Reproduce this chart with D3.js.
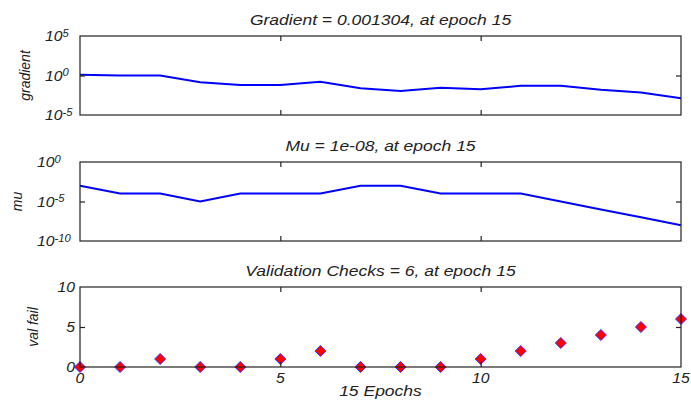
<!DOCTYPE html>
<html>
<head>
<meta charset="utf-8">
<script src="https://cdn.jsdelivr.net/npm/d3@7/dist/d3.min.js"></script>
<style>
  body { margin: 0; background: #fff; }
  svg text { font-family: "Liberation Sans", Arial, sans-serif; font-style: italic; fill: #222; }
</style>
</head>
<body>
<div id="chart"></div>
<script>
// training record
var epochs   = [0, 1, 2, 3, 4, 5, 6, 7, 8, 9, 10, 11, 12, 13, 14, 15];
var gradient = [1.26, 1.0, 1.0, 0.14, 0.063, 0.063, 0.16, 0.025, 0.011, 0.028, 0.018, 0.05, 0.05, 0.016, 0.007, 0.001304];
var mu       = [1e-3, 1e-4, 1e-4, 1e-5, 1e-4, 1e-4, 1e-4, 1e-3, 1e-3, 1e-4, 1e-4, 1e-4, 1e-5, 1e-6, 1e-7, 1e-8];
var valFail  = [0, 0, 1, 0, 0, 1, 2, 0, 0, 0, 1, 2, 3, 4, 5, 6];

var titles = ["Gradient = 0.001304, at epoch 15", "Mu = 1e-08, at epoch 15", "Validation Checks = 6, at epoch 15"];
var yLabels = ["gradient", "mu", "val fail"];
var xTicks = [0, 5, 10, 15];
var gradTicks = [1e-5, 1, 1e5];
var muTicks = [1e-10, 1e-5, 1];
var valTicks = [0, 5, 10];
var xLabel = "15 Epochs";

var W = 691, H = 400;
var left = 80, right = 681;
var stretch = 1.25; // the original figure was widened, text looks wide

var svg = d3.select("#chart").append("svg")
    .attr("width", W)
    .attr("height", H);

var x = d3.scaleLinear().domain([0, 15]).range([left, right]);

function widen(sel, k) {
    sel.each(function () {
        var len = this.getComputedTextLength();
        d3.select(this)
            .attr("textLength", len * k)
            .attr("lengthAdjust", "spacingAndGlyphs");
    });
}

var panels = [
    {top: 36, bottom: 115, ticks: gradTicks, data: gradient, log: true, labOff: -35, ylabX: 25},
    {top: 162, bottom: 241, ticks: muTicks, data: mu, log: true, labOff: -43, ylabX: 17},
    {top: 287, bottom: 367, ticks: valTicks, data: valFail, log: false, ylabX: 33}
];

var exps = {"1e-10": "-10", "0.00001": "-5", "1": "0", "100000": "5"};

panels.forEach(function (p, i) {
    var y;
    if (p.log) {
        y = d3.scaleLog().domain([p.ticks[0], p.ticks[2]]).range([p.bottom, p.top]);
    } else {
        y = d3.scaleLinear().domain([p.ticks[0], p.ticks[2]]).range([p.bottom, p.top]);
    }

    var g = svg.append("g");

    // data first so the frame sits on top
    if (i < 2) {
        var line = d3.line()
            .x(function (d, j) { return x(epochs[j]); })
            .y(function (d) { return y(d); });
        g.append("path")
            .datum(p.data)
            .attr("d", line)
            .attr("fill", "none")
            .attr("stroke", "#0000ff")
            .attr("stroke-width", 2);
    } else {
        var diamond = {
            draw: function (ctx, size) {
                var r = Math.sqrt(size) / 2;
                ctx.moveTo(0, -r);
                ctx.lineTo(r, 0);
                ctx.lineTo(0, r);
                ctx.lineTo(-r, 0);
                ctx.closePath();
            }
        };
        g.selectAll("path.pt")
            .data(p.data)
            .enter()
            .append("path")
            .attr("class", "pt")
            .attr("d", d3.symbol().type(diamond).size(121))
            .attr("transform", function (d, j) { return "translate(" + x(epochs[j]) + "," + y(d) + ")"; })
            .attr("fill", "#ff0000")
            .attr("stroke", "#3a2cff")
            .attr("stroke-width", 1);
    }

    // inward ticks on all four sides
    var mid = [p.ticks[1]];
    g.append("g").attr("transform", "translate(" + left + ",0)")
        .call(d3.axisRight(y).tickValues(mid).tickSize(5).tickFormat(""));
    g.append("g").attr("transform", "translate(" + right + ",0)")
        .call(d3.axisLeft(y).tickValues(mid).tickSize(5).tickFormat(""));
    g.append("g").attr("transform", "translate(0," + p.top + ")")
        .call(d3.axisBottom(x).tickValues([5, 10]).tickSize(5).tickFormat(""));
    g.append("g").attr("transform", "translate(0," + p.bottom + ")")
        .call(d3.axisTop(x).tickValues([5, 10]).tickSize(5).tickFormat(""));
    g.selectAll(".domain").remove();
    g.selectAll(".tick line").attr("stroke", "#222").attr("stroke-width", 1.2);

    g.append("rect")
        .attr("x", left)
        .attr("y", p.top)
        .attr("width", right - left)
        .attr("height", p.bottom - p.top)
        .attr("fill", "none")
        .attr("stroke", "#222")
        .attr("stroke-width", 1.2);

    // y tick labels
    var lab = g.selectAll("text.ylab")
        .data(p.ticks)
        .enter()
        .append("text")
        .attr("class", "ylab")
        .attr("y", function (d) { return y(d); })
        .attr("dy", "0.36em")
        .style("font-size", "14px");
    if (p.log) {
        lab.attr("x", left + p.labOff)
            .attr("text-anchor", "start")
            .each(function (d) {
                var t = d3.select(this);
                t.append("tspan").text("10");
                t.append("tspan")
                    .attr("dy", "-0.45em")
                    .style("font-size", "10px")
                    .text(exps[String(d)]);
            });
        widen(lab, 1.12);
    } else {
        lab.attr("x", left - 5)
            .attr("text-anchor", "end")
            .text(function (d) { return d; });
        widen(lab, 1.12);
    }

    // title
    var title = svg.append("text")
        .attr("x", (left + right) / 2)
        .attr("y", p.top - 11)
        .attr("text-anchor", "middle")
        .style("font-size", "14px")
        .text(titles[i]);
    widen(title, stretch);

    // y label
    svg.append("text")
        .attr("transform", "translate(" + p.ylabX + "," + ((p.top + p.bottom) / 2) + ") rotate(-90)")
        .attr("text-anchor", "middle")
        .attr("dominant-baseline", "central")
        .style("font-size", "14px")
        .text(yLabels[i]);

    if (i === 2) {
        var xl = svg.selectAll("text.xlab")
            .data(xTicks)
            .enter()
            .append("text")
            .attr("class", "xlab")
            .attr("x", function (d) { return x(d); })
            .attr("y", p.bottom + 16)
            .attr("text-anchor", "middle")
            .style("font-size", "14px")
            .text(function (d) { return d; });
        widen(xl, 1.12);

        var xt = svg.append("text")
            .attr("x", (left + right) / 2)
            .attr("y", 396)
            .attr("text-anchor", "middle")
            .style("font-size", "14px")
            .text(xLabel);
        widen(xt, stretch);
    }
});
</script>
</body>
</html>
